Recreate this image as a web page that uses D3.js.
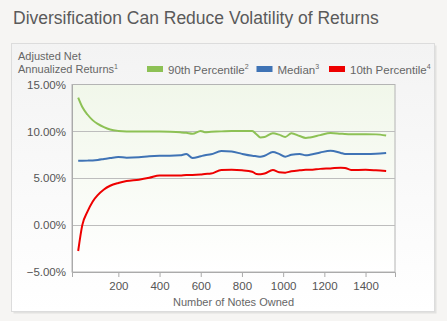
<!DOCTYPE html>
<html>
<head>
<meta charset="utf-8">
<script src="https://cdn.jsdelivr.net/npm/d3@7"></script>
<style>
  html, body { margin: 0; padding: 0; background: #f6f5f3; }
  svg { display: block; font-family: "Liberation Sans", Arial, sans-serif; }
</style>
</head>
<body>
<div id="chart"></div>
<script>
// number of notes owned
const notes = [5, 25, 50, 75, 100, 130, 160, 200, 240, 300, 350, 400, 450, 500, 530, 560, 600, 620, 650, 700, 750, 800, 850, 870, 890, 910, 950, 980, 1010, 1040, 1080, 1110, 1130, 1180, 1230, 1280, 1300, 1330, 1400, 1450, 1500];

const p90 = [13.6, 12.6, 11.8, 11.2, 10.8, 10.45, 10.2, 10.05, 10.0, 10.0, 10.0, 9.98, 9.95, 9.9, 9.85, 9.75, 10.05, 9.92, 9.95, 10.0, 10.05, 10.03, 10.03, 9.7, 9.35, 9.4, 9.8, 9.65, 9.4, 9.8, 9.5, 9.3, 9.35, 9.6, 9.83, 9.75, 9.72, 9.7, 9.7, 9.68, 9.55];
const median = [6.87, 6.87, 6.88, 6.9, 6.95, 7.05, 7.15, 7.27, 7.2, 7.25, 7.35, 7.4, 7.4, 7.45, 7.58, 7.15, 7.35, 7.45, 7.55, 7.9, 7.85, 7.6, 7.4, 7.35, 7.3, 7.4, 7.8, 7.6, 7.3, 7.5, 7.6, 7.45, 7.5, 7.75, 7.94, 7.7, 7.6, 7.6, 7.6, 7.62, 7.7];
const p10 = [-2.76, 0.0, 1.43, 2.5, 3.2, 3.8, 4.2, 4.5, 4.7, 4.85, 5.05, 5.3, 5.3, 5.3, 5.35, 5.35, 5.4, 5.45, 5.5, 5.88, 5.9, 5.85, 5.7, 5.45, 5.43, 5.5, 5.88, 5.65, 5.6, 5.75, 5.85, 5.9, 5.9, 6.0, 6.05, 6.12, 6.1, 5.88, 5.9, 5.85, 5.77];

const yTicks = [15, 10, 5, 0, -5];
const xTicks = [200, 400, 600, 800, 1000, 1200, 1400];

const series = [
  { name: "90th Percentile", sup: "2", color: "#8dc155", values: p90 },
  { name: "Median", sup: "3", color: "#3f73b5", values: median },
  { name: "10th Percentile", sup: "4", color: "#ee0000", values: p10 }
];

const W = 447, H = 321;
const plot = { left: 72, right: 395, top: 84.5, bottom: 272 };

const svg = d3.select("#chart").append("svg")
  .attr("width", W)
  .attr("height", H);

const defs = svg.append("defs");
const panelGrad = defs.append("linearGradient")
  .attr("id", "panel-bg").attr("x1", 0).attr("y1", 0).attr("x2", 0).attr("y2", 1);
panelGrad.append("stop").attr("offset", "0%").attr("stop-color", "#f3f3f3");
panelGrad.append("stop").attr("offset", "100%").attr("stop-color", "#ffffff");

const plotGrad = defs.append("linearGradient")
  .attr("id", "plot-bg").attr("x1", 0).attr("y1", 0).attr("x2", 0).attr("y2", 1);
plotGrad.append("stop").attr("offset", "0%").attr("stop-color", "#f1f7ea");
plotGrad.append("stop").attr("offset", "100%").attr("stop-color", "#ffffff");

// heading
svg.append("text")
  .attr("x", 13)
  .attr("y", 24)
  .attr("font-size", 17.5)
  .attr("fill", "#5a5a5a")
  .text("Diversification Can Reduce Volatility of Returns");

// panel with shadow
svg.append("rect")
  .attr("x", 13.5).attr("y", 45.5)
  .attr("width", 423).attr("height", 268)
  .attr("fill", "#e2e2e0");
svg.append("rect")
  .attr("x", 11.5).attr("y", 43.5)
  .attr("width", 423).attr("height", 268)
  .attr("fill", "url(#panel-bg)")
  .attr("stroke", "#dcdcdc");

const x = d3.scaleLinear().domain([-25, 1543]).range([plot.left, plot.right]);
const y = d3.scaleLinear().domain([-5, 15]).range([plot.bottom, plot.top]);

svg.append("rect")
  .attr("x", plot.left).attr("y", plot.top)
  .attr("width", plot.right - plot.left).attr("height", plot.bottom - plot.top)
  .attr("fill", "url(#plot-bg)")
  .attr("stroke", "#b4b4b4");

// horizontal gridlines
svg.append("g")
  .selectAll("line")
  .data(yTicks.filter(d => d > -5 && d < 15))
  .join("line")
    .attr("x1", plot.left).attr("x2", plot.right)
    .attr("y1", d => Math.round(y(d)) + 0.5)
    .attr("y2", d => Math.round(y(d)) + 0.5)
    .attr("stroke", "#bdbdbd");

// y axis
const yAxis = svg.append("g")
  .attr("transform", `translate(${plot.left},0)`)
  .call(d3.axisLeft(y).tickValues(yTicks).tickSize(0).tickPadding(6)
    .tickFormat(d => d3.format(".2f")(d) + "%"));
yAxis.select(".domain").attr("stroke", "#aaaaaa");
yAxis.selectAll("text")
  .attr("font-family", "Liberation Sans, Arial, sans-serif")
  .attr("font-size", 11.5).attr("fill", "#555");

// x axis
const xAxis = svg.append("g")
  .attr("transform", `translate(0,${plot.bottom})`)
  .call(d3.axisBottom(x).tickValues(xTicks).tickSize(5).tickPadding(5).tickFormat(d3.format("d")));
xAxis.select(".domain").attr("stroke", "#aaaaaa");
xAxis.selectAll(".tick line").attr("stroke", "#aaaaaa");
xAxis.selectAll("text")
  .attr("font-family", "Liberation Sans, Arial, sans-serif")
  .attr("font-size", 11.5).attr("fill", "#555");

svg.append("text")
  .attr("x", (plot.left + plot.right) / 2)
  .attr("y", 306)
  .attr("text-anchor", "middle")
  .attr("font-size", 11)
  .attr("fill", "#666")
  .text("Number of Notes Owned");

// y axis title
const yTitle = svg.append("text")
  .attr("x", 18)
  .attr("font-size", 11)
  .attr("fill", "#666");
yTitle.append("tspan").attr("x", 18).attr("y", 60).text("Adjusted Net");
yTitle.append("tspan").attr("x", 18).attr("y", 73).text("Annualized Returns");
yTitle.append("tspan").attr("font-size", 7).attr("dy", -4).text("1");

// legend
const legendX = [147, 256.5, 329];
const legend = svg.append("g")
  .selectAll("g")
  .data(series)
  .join("g")
    .attr("transform", (d, i) => `translate(${legendX[i]},66)`);
legend.append("rect")
  .attr("width", 16).attr("height", 6)
  .attr("fill", d => d.color);
const legendText = legend.append("text")
  .attr("x", 21).attr("y", 7.5)
  .attr("font-size", 11.5)
  .attr("fill", "#666");
legendText.append("tspan").text(d => d.name);
legendText.append("tspan").attr("font-size", 7).attr("dy", -5).text(d => d.sup);

// series lines
const line = d3.line()
  .x((d, i) => x(notes[i]))
  .y(d => y(d))
  .curve(d3.curveMonotoneX);

svg.append("g")
  .selectAll("path")
  .data(series)
  .join("path")
    .attr("d", d => line(d.values))
    .attr("fill", "none")
    .attr("stroke", d => d.color)
    .attr("stroke-width", 2)
    .attr("stroke-linejoin", "round");
</script>
</body>
</html>
